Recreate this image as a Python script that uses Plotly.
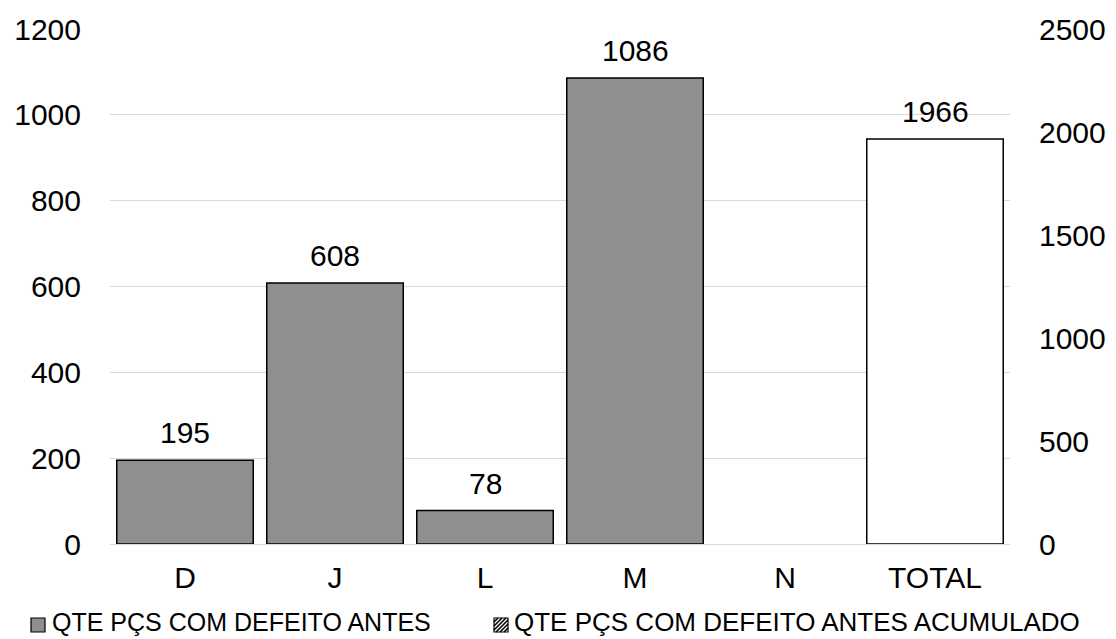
import plotly.graph_objects as go

categories = ["D", "J", "L", "M", "N", "TOTAL"]
defeito_antes = [195, 608, 78, 1086, None, None]
defeito_acumulado = [None, None, None, None, None, 1966]
series_names = ["QTE PÇS COM DEFEITO ANTES", "QTE PÇS COM DEFEITO ANTES ACUMULADO"]

FONT = "Liberation Sans, Arial, sans-serif"
BIG = 30
W, H = 1116, 639
ML, MR, MT, MB = 110, 106, 29, 95
PW, PH = W - ML - MR, H - MT - MB


def px(x):
    return (x - ML) / PW


def py(y):
    return (H - MB - y) / PH


fig = go.Figure()

fig.add_trace(go.Bar(
    x=categories, y=defeito_antes, name=series_names[0],
    marker=dict(color="#8f8f8f", line=dict(color="#000000", width=1.5)),
    width=0.91, yaxis="y", showlegend=False,
))

fig.add_trace(go.Bar(
    x=categories, y=defeito_acumulado, name=series_names[1],
    marker=dict(color="#ffffff", line=dict(color="#000000", width=1.5)),
    width=0.91, yaxis="y2", showlegend=False,
))

# value labels above each bar
for cat, val in zip(categories, defeito_antes):
    if val is not None:
        fig.add_annotation(x=cat, y=val, xref="x", yref="y", text=str(val),
                           showarrow=False, yanchor="bottom", yshift=9,
                           font=dict(family=FONT, size=BIG, color="#000000"))
for cat, val in zip(categories, defeito_acumulado):
    if val is not None:
        fig.add_annotation(x=cat, y=val, xref="x", yref="y2", text=str(val),
                           showarrow=False, yanchor="bottom", yshift=9,
                           font=dict(family=FONT, size=BIG, color="#000000"))

# legend drawn by hand below the axis
sq = 14
key1_x, key2_x, key_y = 31, 494, 618
fig.add_shape(type="rect", xref="paper", yref="paper",
              x0=px(key1_x), x1=px(key1_x + sq), y0=py(key_y + sq), y1=py(key_y),
              fillcolor="#8f8f8f", line=dict(color="#000000", width=1.2))
fig.add_shape(type="rect", xref="paper", yref="paper",
              x0=px(key2_x), x1=px(key2_x + sq), y0=py(key_y + sq), y1=py(key_y),
              fillcolor="#ffffff", line=dict(color="#000000", width=1.2))
hatch = []
for k in range(-sq + 4, sq, 4):
    a0, a1 = max(0, k), min(sq, sq + k)
    hatch.append(f"M {px(key2_x + a0)},{py(key_y + sq - (a0 - k))} "
                 f"L {px(key2_x + a1)},{py(key_y + sq - (a1 - k))}")
fig.add_shape(type="path", xref="paper", yref="paper", path=" ".join(hatch),
              line=dict(color="#000000", width=1.6))
for tx, name, fs in zip([key1_x + sq + 6, key2_x + sq + 5], series_names, [25, 26]):
    fig.add_annotation(x=px(tx), y=py(621.5), xref="paper", yref="paper",
                       text=name, showarrow=False, xanchor="left", yanchor="middle",
                       borderpad=0,
                       font=dict(family=FONT, size=fs, color="#000000"))

fig.update_layout(
    width=W, height=H,
    margin=dict(l=ML, r=MR, t=MT, b=MB, autoexpand=False),
    paper_bgcolor="#ffffff", plot_bgcolor="#ffffff",
    barmode="overlay", showlegend=False,
    font=dict(family=FONT, size=BIG, color="#000000"),
    xaxis=dict(
        type="category", showgrid=False, showline=False, ticks="",
        tickfont=dict(size=BIG), ticklabelstandoff=13,
    ),
    yaxis=dict(
        range=[0, 1200], dtick=200, showgrid=True, gridcolor="#d9d9d9",
        gridwidth=1, zeroline=True, zerolinecolor="#d9d9d9", zerolinewidth=1,
        showline=False, ticks="", tickfont=dict(size=BIG), ticklabelstandoff=28,
    ),
    yaxis2=dict(
        range=[0, 2500], dtick=500, overlaying="y", side="right",
        showgrid=False, zeroline=False, showline=False, ticks="",
        tickfont=dict(size=BIG), ticklabelstandoff=28,
    ),
)

fig.write_html("out.html")
